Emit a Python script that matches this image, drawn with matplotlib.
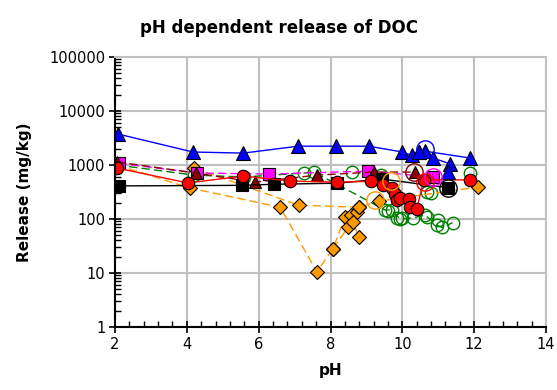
import matplotlib
matplotlib.use("Agg")
import matplotlib.pyplot as plt
from matplotlib.ticker import FixedLocator, NullFormatter, LogLocator

# ---- data ----
blue_x = [2.08, 4.17, 5.57, 7.1, 8.15, 9.07, 10.0, 10.27, 10.46, 10.63, 11.88]
blue_y = [3750, 1740, 1660, 2230, 2230, 2230, 1740, 1500, 1750, 1800, 1350]
blue2_x = [10.46, 10.85, 11.33, 11.27]
blue2_y = [1750, 1350, 1050, 740]

black_x = [2.1, 5.54, 6.43, 8.18, 9.43, 11.27]
black_y = [410, 420, 440, 460, 550, 380]

red_x = [2.05, 4.03, 5.57, 6.87, 8.18, 9.13, 9.46, 9.71, 9.8, 9.85, 9.94, 10.19, 10.21, 10.4, 10.6, 11.88]
red_y = [880, 465, 625, 505, 480, 500, 420, 375, 290, 225, 250, 235, 167, 153, 530, 530]

maroon_x = [2.05, 4.25, 5.9, 7.62, 9.22, 10.35]
maroon_y = [1140, 710, 480, 650, 740, 740]

magenta_x = [2.1, 4.28, 6.29, 9.04, 10.85]
magenta_y = [1080, 710, 680, 770, 600]

green_x = [2.05, 4.2, 5.6, 7.26, 7.54, 9.52, 9.7, 9.94, 10.3, 10.63, 10.97, 11.1, 11.4]
green_y = [1000, 650, 600, 710, 740, 147, 147, 100, 105, 118, 77, 70, 85]
green_pts_x = [8.6, 9.4, 9.6, 9.85, 10.0, 10.68, 10.7, 10.8, 11.0, 11.88]
green_pts_y = [740, 650, 140, 105, 105, 315, 110, 300, 95, 710]

orange1_x = [2.05, 4.09, 6.6, 7.62, 8.07, 8.4, 8.57, 8.74, 8.79]
orange1_y = [1000, 375, 165, 10.5, 28, 108, 118, 135, 165]
orange2_x = [4.2, 7.12, 8.79, 9.35, 12.1]
orange2_y = [880, 180, 165, 215, 390]
orange3_x = [8.07, 8.49, 8.63, 8.79]
orange3_y = [28, 71, 88, 46]

big_x = [10.63, 11.27, 10.33, 10.63, 10.85, 9.68, 9.24]
big_y = [2000, 380, 740, 490, 600, 500, 225]
big_c = ['#0000ff', '#000000', '#8b0000', '#ff0000', '#ff00ff', '#ff9900', '#ff9900']

title = "pH dependent release of DOC"
xlabel = "pH"
ylabel = "Release (mg/kg)"
xticks = [2, 4, 6, 8, 10, 12, 14]
yticks = [1, 10, 100, 1000, 10000, 100000]
ytick_labels = ["1", "10", "100", "1000", "10000", "100000"]

# ---- figure ----
fig = plt.figure(figsize=(5.57, 3.9), dpi=100)
ax = fig.add_axes([115/557, 1-327/390, (546-115)/557, (327-57)/390])
ax.set_yscale('log')
ax.set_xlim(2, 14)
ax.set_ylim(1, 100000)

ms = 8
ec = 'black'
lw = 1.0
dash = (0, (6, 3))
ax.plot(green_x, green_y, color='#008000', ls=dash, lw=lw, marker='o', mfc='none',
        mec='#008000', ms=9, mew=1)
ax.plot(green_pts_x, green_pts_y, ls='none', marker='o', mfc='none', mec='#008000', ms=9, mew=1)
ax.plot(orange1_x, orange1_y, color='#ff9900', ls=dash, lw=lw, marker='D', mfc='#ff9900',
        mec=ec, ms=7, mew=0.8)
ax.plot(orange2_x, orange2_y, color='#ff9900', ls=dash, lw=lw, marker='D', mfc='#ff9900',
        mec=ec, ms=7, mew=0.8)
ax.plot(orange3_x, orange3_y, color='#ff9900', ls=dash, lw=lw, marker='D', mfc='#ff9900',
        mec=ec, ms=7, mew=0.8)
ax.plot(magenta_x, magenta_y, color='#ff00ff', ls=dash, lw=lw, marker='s', mfc='#ff00ff',
        mec=ec, ms=8, mew=0.8)
ax.plot(maroon_x, maroon_y, color='#8b0000', ls=dash, lw=lw, marker='^', mfc='#8b0000',
        mec=ec, ms=9, mew=0.8)
ax.plot(black_x, black_y, color='black', ls='-', lw=lw, marker='s', mfc='black',
        mec=ec, ms=8.5, mew=0.8)
ax.plot(red_x, red_y, color='#ff0000', ls='-', lw=lw, marker='o', mfc='#ff0000',
        mec=ec, ms=9, mew=0.8)
ax.plot(blue_x, blue_y, color='#0000ff', ls='-', lw=lw, marker='^', mfc='#0000ff',
        mec=ec, ms=9.5, mew=0.8)
ax.plot(blue2_x, blue2_y, color='#0000ff', ls='-', lw=lw, marker='^', mfc='#0000ff',
        mec=ec, ms=9.5, mew=0.8)
for x, y, c in zip(big_x, big_y, big_c):
    ax.plot([x], [y], ls='none', marker='o', mfc='none', mec=c, ms=12.5, mew=1)

ax.grid(True, which='major', color='#c0c0c0', lw=1.5)
ax.set_axisbelow(True)
ax.set_xticks(xticks)
ax.set_xticklabels([str(t) for t in xticks])
ax.xaxis.set_minor_locator(FixedLocator([2 + 0.4*i for i in range(31)]))
ax.set_yticks(yticks)
ax.set_yticklabels(ytick_labels)
ax.yaxis.set_minor_locator(LogLocator(base=10, subs=range(2, 10)))
ax.yaxis.set_minor_formatter(NullFormatter())

for s in ['top', 'right']:
    ax.spines[s].set_color('#c0c0c0')
    ax.spines[s].set_linewidth(1.5)
for s in ['left', 'bottom']:
    ax.spines[s].set_color('black')
    ax.spines[s].set_linewidth(1.5)
ax.tick_params(which='major', direction='inout', length=8, width=1.2, labelsize=10.5, pad=3)
ax.tick_params(which='minor', direction='in', length=4, width=1)
ax.tick_params(axis='x', which='both', top=False)
ax.tick_params(axis='y', which='both', right=False)

fig.text(0.5, 1 - 28/390, title, fontsize=12, fontweight='bold', ha='center', va='center')
ax.set_xlabel(xlabel, fontsize=11, fontweight='bold', labelpad=8)
ax.set_ylabel(ylabel, fontsize=11, fontweight='bold', labelpad=12)

fig.savefig("out.png", dpi=100)
